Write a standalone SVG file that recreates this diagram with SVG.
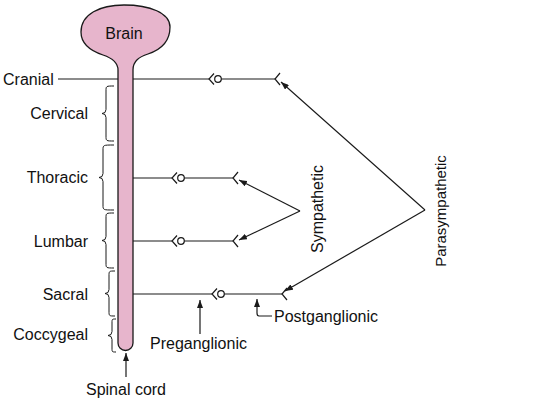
<svg xmlns="http://www.w3.org/2000/svg" width="552" height="401" viewBox="0 0 552 401">
<style>
.ln{fill:none;stroke:#1a1a1a;stroke-width:1.2}
.br{fill:none;stroke:#1a1a1a;stroke-width:1}
.t{font-family:"Liberation Sans",Arial,sans-serif;font-size:16px;fill:#111}
</style>
<defs>
<marker id="ah" viewBox="0 0 8 6" refX="8" refY="3" markerWidth="8" markerHeight="6" markerUnits="userSpaceOnUse" orient="auto">
<path d="M0,0 L8,3 L0,6 Z" fill="#1a1a1a"/>
</marker>
<g id="gang"><path class="ln" d="M5,-5.5 L0,0 L5,5.5"/><circle cx="9" cy="0" r="3.3" fill="#fff" stroke="#1a1a1a" stroke-width="1.2"/></g>
<path id="end" class="ln" d="M5,-6 L0,0 L5,6"/>
</defs>
<rect width="552" height="401" fill="#fff"/>
<g id="connectors">
<line class="ln" x1="58" y1="79" x2="209" y2="79"/>
<line class="ln" x1="221" y1="79" x2="275" y2="79"/>
<line class="ln" x1="133" y1="178" x2="172" y2="178"/>
<line class="ln" x1="184" y1="178" x2="233" y2="178"/>
<line class="ln" x1="133" y1="241" x2="172" y2="241"/>
<line class="ln" x1="184" y1="241" x2="233" y2="241"/>
<line class="ln" x1="133" y1="294" x2="212" y2="294"/>
<line class="ln" x1="224" y1="294" x2="282" y2="294"/>
<path class="ln" d="M300,211 L239,180" marker-end="url(#ah)"/>
<path class="ln" d="M300,211 L239,240" marker-end="url(#ah)"/>
<path class="ln" d="M425,210 L281,82" marker-end="url(#ah)"/>
<path class="ln" d="M425,210 L285,291" marker-end="url(#ah)"/>
<path class="ln" d="M200,334 L200,300" marker-end="url(#ah)"/>
<path class="ln" d="M272,316 L259,316 Q257,316 257,313 L257,299" marker-end="url(#ah)"/>
<path class="ln" d="M126,377 L126,353" marker-end="url(#ah)"/>
</g>
<g id="spine">
<path d="M118,70 C118,62 112,58 103,55 C88,50 81,42 81,32 C81,14 100,5 124,5 C150,5 170,13 170,27 C170,42 160,50 148,54 C139,57 133,61 133,70 L133,343 A7.5,7.5 0 0 1 118,343 Z" fill="#e7b5cc" stroke="#1a1a1a" stroke-width="1.3"/>
<text class="t" x="124" y="39" text-anchor="middle">Brain</text>
</g>
<g id="ganglia">
<use href="#gang" x="209" y="79"/>
<use href="#end" x="275" y="79"/>
<use href="#gang" x="172" y="178"/>
<use href="#end" x="233" y="178"/>
<use href="#gang" x="172" y="241"/>
<use href="#end" x="233" y="241"/>
<use href="#gang" x="212" y="294"/>
<use href="#end" x="282" y="294"/>
</g>
<g id="braces">
<path class="br" d="M114,86 C106,86 106,86 106,91 L106,109.5 Q106,113.5 102,113.5 Q106,113.5 106,117.5 L106,136 C106,141 106,141 114,141"/>
<path class="br" d="M114,145 C103,145 103,145 103,150 L103,173.5 Q103,177.5 99,177.5 Q103,177.5 103,181.5 L103,205 C103,210 103,210 114,210"/>
<path class="br" d="M114,213 C106,213 106,213 106,218 L106,236.5 Q106,240.5 102,240.5 Q106,240.5 106,244.5 L106,263 C106,268 106,268 114,268"/>
<path class="br" d="M115,271 C109,271 109,271 109,276 L109,289.5 Q109,293.5 105,293.5 Q109,293.5 109,297.5 L109,311 C109,316 109,316 115,316"/>
<path class="br" d="M116,319 C112,319 112,319 112,323 L112,331.5 Q112,335.5 108,335.5 Q112,335.5 112,339.5 L112,348 C112,352 112,352 116,352"/>
</g>
<g id="labels">
<text class="t" x="3" y="85">Cranial</text>
<text class="t" x="88" y="119" text-anchor="end">Cervical</text>
<text class="t" x="88" y="183" text-anchor="end">Thoracic</text>
<text class="t" x="88" y="247" text-anchor="end">Lumbar</text>
<text class="t" x="88" y="300" text-anchor="end">Sacral</text>
<text class="t" x="88" y="340" text-anchor="end">Coccygeal</text>
<text class="t" x="150" y="349">Preganglionic</text>
<text class="t" x="274" y="322">Postganglionic</text>
<text class="t" x="126" y="395" text-anchor="middle">Spinal cord</text>
<text class="t" transform="translate(323,209) rotate(-90)" text-anchor="middle">Sympathetic</text>
<text class="t" transform="translate(446,211) rotate(-90)" text-anchor="middle" style="font-size:15px">Parasympathetic</text>
</g>
</svg>
